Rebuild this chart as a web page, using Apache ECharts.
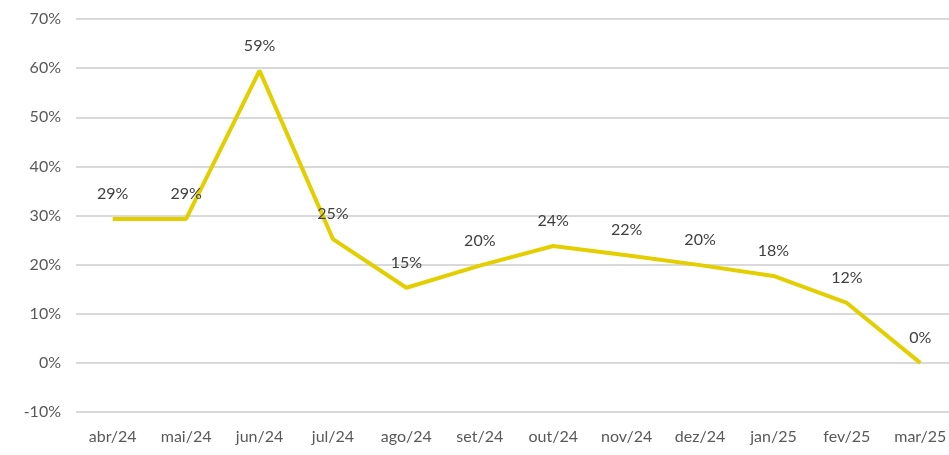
<!DOCTYPE html>
<html>
<head>
<meta charset="utf-8">
<script src="https://cdn.jsdelivr.net/npm/echarts@6/dist/echarts.min.js"></script>
<style>
  html, body { margin: 0; padding: 0; background: #fff; }
  #chart { width: 949px; height: 455px; }
</style>
</head>
<body>
<div id="chart"></div>
<script>
// meses e percentuais
const months = ['abr/24', 'mai/24', 'jun/24', 'jul/24', 'ago/24', 'set/24', 'out/24', 'nov/24', 'dez/24', 'jan/25', 'fev/25', 'mar/25'];
const values = [29.3, 29.3, 59.5, 25.2, 15.3, 19.8, 23.8, 21.9, 19.9, 17.7, 12.2, 0];
const labels = ['29%', '29%', '59%', '25%', '15%', '20%', '24%', '22%', '20%', '18%', '12%', '0%'];

const fontFamily = 'Lato, "Open Sans", sans-serif';

echarts.init(document.getElementById('chart')).setOption({
    animation: false,
    textStyle: { fontFamily: fontFamily },
    grid: {
        left: 76,
        top: 19,
        width: 881,
        height: 393,
        outerBoundsMode: 'none'
    },
    xAxis: {
        type: 'category',
        data: months,
        boundaryGap: true,
        axisLine: { show: false },
        axisTick: { show: false },
        axisLabel: {
            color: '#595959',
            fontSize: 16,
            margin: 17,
            fontFamily: fontFamily
        }
    },
    yAxis: {
        type: 'value',
        min: -10,
        max: 70,
        interval: 10,
        axisLine: { show: false },
        axisTick: { show: false },
        splitLine: { lineStyle: { color: '#d9d9d9', width: 2 } },
        axisLabel: {
            color: '#595959',
            fontSize: 16,
            margin: 15,
            formatter: v => v + '%',
            fontFamily: fontFamily
        }
    },
    series: [
        {
            type: 'line',
            data: values,
            symbol: 'circle',
            symbolSize: 0,
            showSymbol: true,
            lineStyle: { color: '#e3cf00', width: 4 },
            itemStyle: { color: '#e3cf00' },
            label: {
                show: true,
                position: 'top',
                distance: 17,
                color: '#404040',
                fontSize: 16,
                fontFamily: fontFamily,
                formatter: p => labels[p.dataIndex]
            }
        }
    ]
});
</script>
</body>
</html>
